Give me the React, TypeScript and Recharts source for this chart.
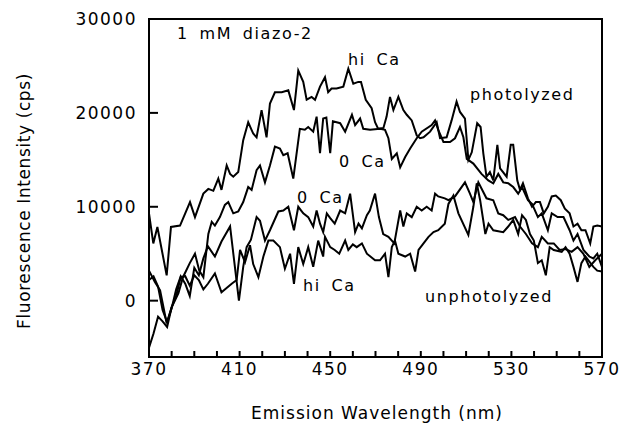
import { useLayoutEffect } from 'react';
import { LineChart, Line, XAxis, YAxis, ReferenceArea } from 'recharts';

// photolyzed, hi Ca
const hiCaPhotoNm = [370, 371.9, 373.7, 377.8, 379.7, 383.7, 388.1, 390.3, 394, 396.2, 398.4, 400.6, 402, 404.3, 405.8, 407.2, 409.4, 411.6, 413.8, 416, 417.5, 419.7, 421.9, 423.4, 425.6, 428.6, 431.5, 434, 435.9, 438.1, 439.6, 441.8, 443.3, 445.5, 447.7, 449.1, 450.6, 452.8, 455.8, 458, 460.2, 462.4, 463.6, 465.7, 468.3, 469.8, 471.2, 473.5, 474.9, 476.4, 477.9, 480.1, 482.3, 483.8, 486, 488.2, 489.7, 491.2, 494.1, 497, 498.5, 501.4, 503.6, 505.8, 507.3, 509.5, 511, 512.5, 514.9, 516.4, 517.6, 519, 520.5, 522, 523.8, 525, 527.9, 529.7, 530.8, 532.6, 533.8, 535.1, 537.3, 539.1, 540.8, 542.6, 544.3, 546.1, 547.8, 549.6, 551.8, 553.6, 555.7, 557.4, 559.2, 560.9, 562.7, 564.8, 566.2, 567.9, 570];
const hiCaPhotoCps = [9300, 6100, 7850, 2700, 7850, 8000, 10500, 8900, 11400, 11900, 11700, 13000, 11800, 14400, 13500, 13200, 13700, 17100, 19000, 17800, 17400, 20300, 17400, 21000, 22200, 22200, 22400, 20300, 24500, 23300, 21400, 21700, 21400, 22800, 23800, 22200, 22600, 22600, 22800, 24700, 23100, 23300, 23300, 21400, 20500, 19000, 18300, 18400, 19600, 21700, 20300, 21700, 20300, 19800, 19200, 17600, 17300, 17400, 18000, 19000, 17300, 17400, 19200, 21200, 20100, 19400, 15000, 15800, 18900, 18500, 15700, 13200, 13700, 12800, 16600, 14100, 13200, 16600, 16600, 12800, 11800, 12500, 10900, 10000, 10500, 10500, 9300, 10000, 11100, 11200, 10700, 9800, 9300, 7900, 8200, 7500, 7500, 6100, 7900, 8000, 7900];

// photolyzed, 0 Ca
const zeroCaPhotoNm = [370, 372.6, 374.9, 377.8, 380, 383, 385, 388, 390.3, 392.2, 394, 396.2, 397.7, 399.1, 401.3, 403.5, 405, 407.2, 409.4, 411.6, 413.8, 415.3, 417.5, 419, 421.2, 423.4, 425.6, 427.8, 429.3, 431.2, 433.7, 436.6, 438.8, 440.3, 442.5, 444, 445.5, 446.9, 448.3, 450, 451.2, 454.4, 456.6, 459.6, 461, 463.2, 464.6, 467.6, 472, 474.2, 475.7, 477.2, 479.4, 480.9, 483.1, 485.3, 488.2, 490.4, 494.8, 496.3, 497.7, 500, 502.9, 505.1, 507.3, 508.8, 510.3, 513.2, 516.8, 519.8, 522, 524.2, 526.4, 528.6, 530.8, 533, 534.7, 537.3, 539.1, 541.7, 543.4, 546.1, 547.8, 550.4, 553, 555.7, 557.4, 559.2, 561.8, 564.4, 566.2, 567.9, 570];
const zeroCaPhotoCps = [3200, 2000, 1100, -2400, -700, 800, 2500, 4000, 5000, 3200, 2500, 7100, 8400, 8000, 8900, 10200, 10500, 9300, 9500, 10500, 12100, 11800, 13900, 14400, 12600, 14400, 16400, 16200, 15500, 15700, 13000, 18300, 18200, 18500, 18000, 19600, 15700, 19400, 19500, 15700, 19100, 18900, 18000, 19800, 18700, 19400, 18300, 18200, 18300, 18200, 17300, 15100, 15700, 14200, 15300, 16200, 17300, 18000, 18700, 19200, 18200, 16900, 16900, 17300, 18500, 17400, 15100, 14600, 13500, 12800, 12500, 13500, 12600, 12500, 12100, 11400, 12100, 10700, 10300, 8900, 9300, 7500, 9300, 8900, 8900, 7500, 6400, 7100, 5400, 4700, 4500, 5000, 3600];

// unphotolyzed, 0 Ca
const zeroCaUnphotoNm = [370, 372, 374, 376, 378, 380, 382, 384, 386, 388, 390, 392, 394, 396, 399.1, 402, 405.8, 409.7, 411.6, 413.1, 415, 417.5, 419, 421.2, 423.4, 427.1, 429.3, 431.5, 434, 435.9, 438.1, 440.3, 442.5, 444, 445.5, 446.9, 448.5, 450, 452, 454.4, 456.6, 458.8, 461, 462.5, 464, 466.2, 467.5, 469.8, 471.5, 473.4, 475.7, 478.3, 480.9, 482.3, 483.8, 486, 488.2, 490.4, 492.6, 494.8, 496.3, 497.7, 500.6, 502.2, 505.1, 509.5, 511.7, 513.2, 515.4, 519, 522, 524.2, 526.4, 528.6, 531.6, 533.8, 536.4, 539.1, 541.7, 543.4, 546.1, 548.7, 551.3, 553.9, 556.6, 559.2, 561.8, 564.4, 567, 570];
const zeroCaUnphotoCps = [2200, 2600, 1500, -1000, -2300, -800, 1200, 2600, 1800, 500, 3500, 2700, 4500, 5800, 4700, 6300, 7900, 0, 3600, 5700, 6500, 8900, 8500, 6400, 7500, 9500, 9600, 10000, 7500, 10000, 9300, 8900, 7900, 9600, 8200, 7300, 9300, 8800, 8200, 9600, 9300, 11400, 7300, 8200, 7700, 9100, 9600, 11400, 8900, 7100, 6800, 6100, 9600, 7900, 9300, 8900, 10000, 9600, 10000, 9600, 11400, 11100, 10900, 10700, 11100, 12600, 11400, 10500, 12600, 10900, 10700, 9300, 9100, 8600, 8900, 7900, 7100, 6100, 5700, 6800, 6100, 6100, 5400, 5500, 5200, 5700, 5000, 3600, 4300, 5000];

// unphotolyzed, hi Ca
const hiCaUnphotoNm = [370, 372, 374, 376, 378, 380, 382, 384, 386, 388, 390, 392, 394, 396, 399.1, 402, 406.5, 408.7, 410.2, 412.4, 414.6, 416, 418.3, 420.5, 422.7, 424.9, 427.8, 430, 432.3, 434, 435.9, 438.1, 440.3, 442.5, 444.7, 446.9, 447.7, 450, 452, 454, 456.6, 458, 460, 461.7, 464, 466.2, 469.8, 472, 474.2, 475.7, 477.2, 478.6, 480.1, 483.1, 485.3, 487.5, 489, 491.2, 493.4, 495.6, 497.7, 500.6, 502.2, 504.4, 506.6, 511, 513.2, 514.7, 516.2, 518.5, 519.9, 522, 526.4, 528.6, 530.8, 533, 534.7, 536.4, 538.2, 539.9, 541.7, 543.4, 545.2, 546.9, 548.7, 552.2, 553.9, 555.7, 557.4, 559.2, 560.9, 562.7, 566.2, 567.9, 570];
const hiCaUnphotoCps = [-5000, -3500, -1700, -2200, -2800, -700, 500, 2500, 2600, 1600, 2700, 2200, 1200, 1800, 2900, 900, 1800, 2200, 5400, 4100, 5900, 3900, 2500, 4700, 6400, 6400, 5700, 3400, 5000, 1800, 5700, 3900, 5700, 3600, 6400, 4700, 6800, 5700, 5400, 5000, 6400, 5400, 6000, 5700, 6100, 5000, 4300, 4300, 5000, 2500, 5700, 6400, 5000, 4700, 5000, 3100, 5400, 6100, 6800, 7300, 7500, 8200, 10300, 11200, 9300, 7000, 10000, 12500, 10700, 7100, 8200, 7500, 7300, 7900, 8600, 7100, 9100, 8600, 7100, 6400, 4000, 4300, 2700, 5700, 5400, 5200, 5700, 5000, 3600, 2000, 4000, 4700, 3600, 3200, 3100];

const xTicks = [370, 380, 390, 400, 410, 420, 430, 440, 450, 460, 470, 480, 490, 500, 510, 520, 530, 540, 550, 560, 570];
const xLabelled = [370, 410, 450, 490, 530, 570];
const yTicks = [0, 10000, 20000, 30000];

const X_MIN = 370;
const X_MAX = 570;
const Y_MIN = -6000;
const Y_MAX = 30000;

const FONT = 'DejaVu Sans';

function zip(nm: number[], cps: number[]) {
  const n = Math.min(nm.length, cps.length);
  const out: { nm: number; cps: number }[] = [];
  for (let i = 0; i < n; i++) out.push({ nm: nm[i], cps: cps[i] });
  return out;
}

const series = [
  zip(hiCaPhotoNm, hiCaPhotoCps),
  zip(zeroCaPhotoNm, zeroCaPhotoCps),
  zip(zeroCaUnphotoNm, zeroCaUnphotoCps),
  zip(hiCaUnphotoNm, hiCaUnphotoCps),
];

// tick marks point inward, labels only every 40 nm
const XTick = (props: any) => {
  const { x, y, payload } = props;
  const inner = payload.value !== X_MIN && payload.value !== X_MAX;
  return (
    <g>
      {inner && <line x1={x} y1={y} x2={x} y2={y - 6} stroke="#000" strokeWidth={2} />}
      {xLabelled.includes(payload.value) && (
        <text x={x} y={y + 18} textAnchor="middle" fill="#000" fontSize={17} fontFamily={FONT} letterSpacing={1.5}>
          {payload.value}
        </text>
      )}
    </g>
  );
};

const YTick = (props: any) => {
  const { x, y, payload } = props;
  return (
    <g>
      {payload.value !== Y_MAX && <line x1={x} y1={y} x2={x + 9} y2={y} stroke="#000" strokeWidth={2} />}
      <text x={x - 12} y={y + 6} textAnchor="end" fill="#000" fontSize={17} fontFamily={FONT} letterSpacing={1.5}>
        {payload.value}
      </text>
    </g>
  );
};

const W = 621;
const H = 423;

export default function App() {
  // the chart fills the whole window, so drop the default body margin
  useLayoutEffect(() => {
    document.body.style.margin = '0';
  }, []);

  const labelStyle = { fontFamily: FONT, fontSize: 16, letterSpacing: 1.6, fill: '#000' } as const;
  return (
    <div style={{ position: 'relative', width: W, height: H }}>
      <LineChart width={W} height={H} margin={{ top: 19, right: 19, left: 69, bottom: 36 }}>
        <XAxis
          dataKey="nm"
          type="number"
          domain={[X_MIN, X_MAX]}
          ticks={xTicks}
          interval={0}
          tick={<XTick />}
          tickLine={false}
          tickSize={0}
          tickMargin={0}
          height={30}
          stroke="#000"
          strokeWidth={2}
          allowDuplicatedCategory={false}
        />
        <YAxis
          type="number"
          domain={[Y_MIN, Y_MAX]}
          ticks={yTicks}
          interval={0}
          tick={<YTick />}
          tickLine={false}
          tickSize={0}
          tickMargin={0}
          width={80}
          stroke="#000"
          strokeWidth={2}
        />
        <ReferenceArea x1={X_MIN} x2={X_MAX} y1={Y_MIN} y2={Y_MAX} fill="none" stroke="#000" strokeWidth={2} />
        {series.map((d, i) => (
          <Line
            key={i}
            data={d}
            dataKey="cps"
            type="linear"
            stroke="#000"
            strokeWidth={2}
            dot={false}
            activeDot={false}
            isAnimationActive={false}
          />
        ))}
      </LineChart>
      <svg width={W} height={H} style={{ position: 'absolute', left: 0, top: 0, pointerEvents: 'none' }}>
        <text x={177} y={39} {...labelStyle} wordSpacing={4}>1 mM diazo-2</text>
        <text x={348} y={65} {...labelStyle} wordSpacing={4}>hi Ca</text>
        <text x={470} y={100} {...labelStyle}>photolyzed</text>
        <text x={339} y={167} {...labelStyle} wordSpacing={4}>0 Ca</text>
        <text x={297} y={203} {...labelStyle} wordSpacing={4}>0 Ca</text>
        <text x={303} y={291} {...labelStyle} wordSpacing={4}>hi Ca</text>
        <text x={425} y={302} {...labelStyle}>unphotolyzed</text>
        <text x={377} y={419} textAnchor="middle" fontFamily={FONT} fontSize={17} letterSpacing={1} fill="#000">
          Emission Wavelength (nm)
        </text>
        <text
          x={30}
          y={201}
          textAnchor="middle"
          fontFamily={FONT}
          fontSize={17}
          letterSpacing={0.6}
          fill="#000"
          transform="rotate(-90 30 201)"
        >
          Fluorescence Intensity (cps)
        </text>
      </svg>
    </div>
  );
}
